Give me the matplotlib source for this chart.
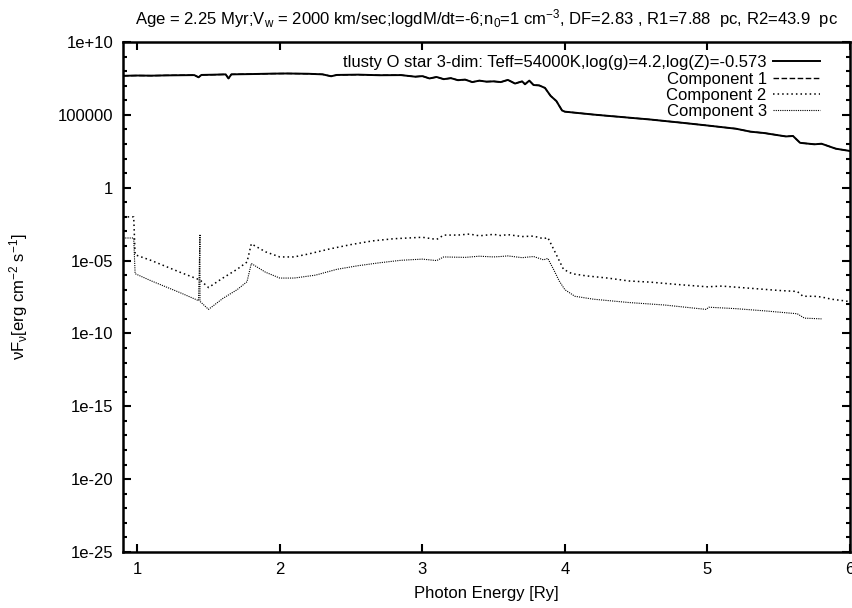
import numpy as np
import matplotlib
matplotlib.use("Agg")
import matplotlib.pyplot as plt
from matplotlib.ticker import FixedLocator, NullFormatter

plt.rcParams['font.family'] = ['Liberation Sans', 'DejaVu Sans']
plt.rcParams['mathtext.fontset'] = 'custom'
plt.rcParams['mathtext.rm'] = 'Liberation Sans'
plt.rcParams['mathtext.it'] = 'Liberation Sans:italic'

# star spectrum (photon energy in Ry, log10 of nuF_nu)
star_e = [0.90, 1.00, 1.10, 1.20, 1.30, 1.40, 1.43, 1.45, 1.55, 1.62, 1.64, 1.66,
          1.80, 1.95, 2.05, 2.20, 2.30, 2.36, 2.40, 2.55, 2.70, 2.85, 2.95, 3.00,
          3.05, 3.10, 3.15, 3.20, 3.25, 3.30, 3.35, 3.40, 3.45, 3.50, 3.55, 3.60,
          3.65, 3.70, 3.72, 3.75, 3.78, 3.82, 3.86, 3.90, 3.94, 3.98, 4.00, 4.20,
          4.40, 4.60, 4.80, 5.00, 5.20, 5.30, 5.40, 5.55, 5.60, 5.65, 5.75, 5.80,
          5.90, 6.00]
star_log = [7.68, 7.70, 7.69, 7.71, 7.72, 7.73, 7.58, 7.74, 7.76, 7.78, 7.50, 7.78,
            7.80, 7.83, 7.84, 7.82, 7.78, 7.65, 7.74, 7.76, 7.72, 7.73, 7.62, 7.66,
            7.50, 7.60, 7.45, 7.52, 7.38, 7.42, 7.25, 7.35, 7.28, 7.30, 7.25, 7.40,
            7.15, 7.30, 7.10, 7.35, 7.05, 7.02, 6.85, 6.30, 5.95, 5.30, 5.22, 5.02,
            4.85, 4.68, 4.48, 4.27, 4.05, 3.85, 3.75, 3.52, 3.55, 3.08, 2.98, 3.02,
            2.68, 2.52]

# component 1 lies on top of the star spectrum
comp1_e = star_e
comp1_log = star_log

comp2_e = [0.90, 0.975, 0.985, 1.10, 1.20, 1.30, 1.44, 1.50, 1.60, 1.70, 1.77, 1.80,
           1.90, 2.00, 2.10, 2.20, 2.35, 2.50, 2.65, 2.80, 2.90, 3.00, 3.10, 3.15,
           3.25, 3.33, 3.40, 3.50, 3.55, 3.60, 3.70, 3.78, 3.85, 3.88, 3.92, 3.96,
           3.99, 4.05, 4.15, 4.30, 4.45, 4.60, 4.80, 5.00, 5.10, 5.30, 5.50, 5.63,
           5.67, 5.75, 5.80, 5.87, 5.95, 6.00]
comp2_log = [-2.0, -2.0, -4.6, -5.0, -5.4, -5.8, -6.33, -6.85, -6.2, -5.6, -5.1, -3.85,
             -4.4, -4.75, -4.75, -4.55, -4.2, -3.9, -3.65, -3.5, -3.45, -3.4, -3.55, -3.25,
             -3.25, -3.18, -3.3, -3.2, -3.28, -3.22, -3.35, -3.32, -3.5, -3.42, -4.2, -5.0,
             -5.6, -5.9, -6.05, -6.2, -6.4, -6.48, -6.65, -6.8, -6.75, -6.9, -7.05, -7.12,
             -7.45, -7.45, -7.5, -7.65, -7.75, -7.82]

comp3_e = [0.90, 0.975, 0.985, 1.10, 1.20, 1.30, 1.43, 1.44, 1.44, 1.50, 1.60, 1.70,
           1.77, 1.80, 1.90, 2.00, 2.10, 2.25, 2.40, 2.55, 2.70, 2.85, 3.00, 3.10,
           3.15, 3.30, 3.40, 3.50, 3.55, 3.60, 3.70, 3.78, 3.85, 3.88, 3.92, 3.96,
           4.00, 4.07, 4.20, 4.45, 4.70, 4.99, 5.01, 5.20, 5.40, 5.63, 5.68, 5.80]
comp3_log = [-3.45, -3.45, -5.9, -6.4, -6.8, -7.2, -7.75, -3.2, -7.8, -8.35, -7.6, -7.0,
             -6.45, -5.2, -5.8, -6.2, -6.2, -6.0, -5.6, -5.35, -5.15, -4.98, -4.9, -5.0,
             -4.75, -4.78, -4.7, -4.75, -4.72, -4.68, -4.8, -4.72, -4.95, -4.85, -5.6, -6.4,
             -7.0, -7.45, -7.65, -7.88, -8.05, -8.35, -8.2, -8.3, -8.45, -8.65, -8.95, -9.0]

ytick_vals = [1e10, 1e5, 1, 1e-5, 1e-10, 1e-15, 1e-20, 1e-25]
ytick_labels = ["1e+10", "100000", "1", "1e-05", "1e-10", "1e-15", "1e-20", "1e-25"]
xtick_vals = [1, 2, 3, 4, 5, 6]

fig = plt.figure(figsize=(8.53, 6.08), dpi=100)
ax = fig.add_axes([0.1442, 0.0921, 0.8523, 0.8388])

ax.plot(star_e, 10 ** np.array(star_log), color='black', lw=1.4,
        label='tlusty O star 3-dim: Teff=54000K,log(g)=4.2,log(Z)=-0.573')
ax.plot(comp1_e, 10 ** np.array(comp1_log), color='black', lw=1.0,
        linestyle=(0, (4, 1.8)), label='Component 1')
ax.plot(comp2_e, 10 ** np.array(comp2_log), color='black', lw=1.1,
        linestyle=(0, (1, 2)), label='Component 2')
ax.plot(comp3_e, 10 ** np.array(comp3_log), color='black', lw=0.8,
        linestyle=(0, (1, 1)), label='Component 3')

ax.set_yscale('log')
ax.set_xlim(0.9, 6)
ax.set_ylim(1e-25, 1e10)
ax.set_yticks(ytick_vals)
ax.set_yticklabels(ytick_labels)
ax.yaxis.set_minor_locator(FixedLocator([10.0 ** k for k in range(-25, 11)]))
ax.yaxis.set_minor_formatter(NullFormatter())
ax.set_xticks(xtick_vals)
ax.xaxis.set_minor_locator(FixedLocator([]))

ax.tick_params(which='both', direction='in', top=True, right=True, labelsize=12,
               width=1.5)
ax.tick_params(which='major', length=6, pad=7)
ax.tick_params(which='minor', length=3)
for s in ax.spines.values():
    s.set_linewidth(1.8)

ax.set_xlabel('Photon Energy [Ry]', fontsize=12, labelpad=7)
ax.set_ylabel(r'νF$_{\mathrm{ν}}$[erg cm$^{-2}$ s$^{-1}$]', fontsize=12, labelpad=20)
ax.set_title(r'Age = 2.25 Myr;V$_{\mathrm{w}}$ = 2000 km/sec;logdM/dt=-6;n$_{\mathrm{0}}$=1 cm$^{-3}$, '
             r'DF=2.83 , R1=7.88  pc, R2=43.9  pc', fontsize=12, pad=13)

leg = ax.legend(loc='upper right', bbox_to_anchor=(0.9587, 0.974), frameon=False,
                markerfirst=False, fontsize=12, handlelength=2.8, labelspacing=0.08,
                borderaxespad=0, borderpad=0, handletextpad=0.4)

fig.savefig('out.png', dpi=100)
